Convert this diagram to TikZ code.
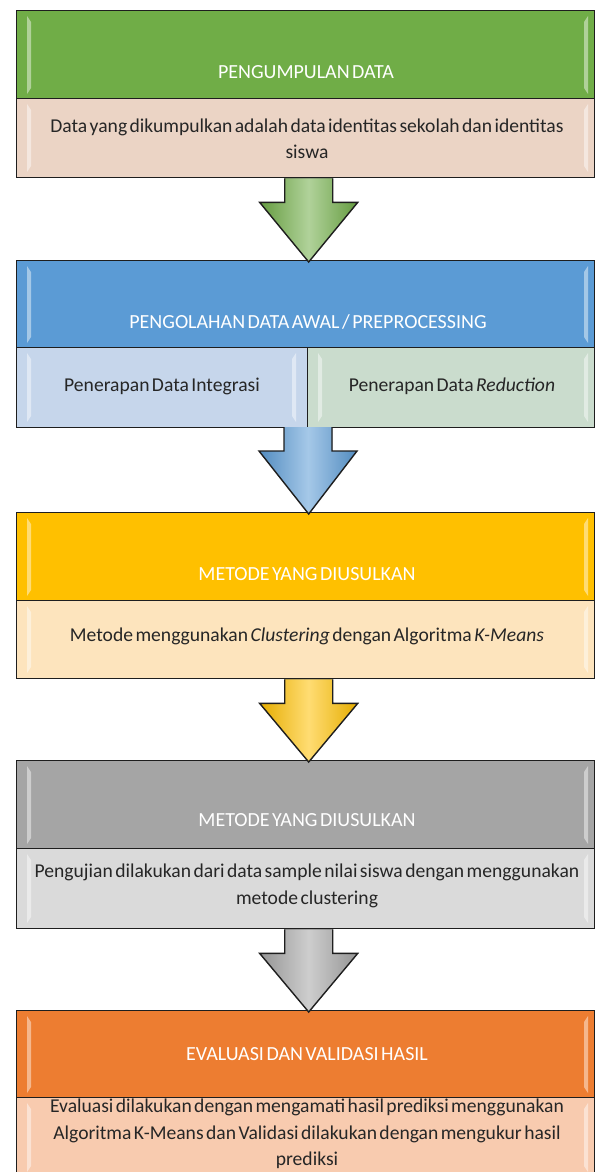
\documentclass[tikz,border=0pt]{standalone}
\usepackage{fontspec}
\setmainfont{Carlito}[WordSpace=0.55]
\usetikzlibrary{calc}
\definecolor{gHead}{HTML}{70AD47}
\definecolor{gDesc}{HTML}{EBD4C5}
\definecolor{bHead}{HTML}{5B9BD5}
\definecolor{bLeft}{HTML}{C6D6EB}
\definecolor{bRight}{HTML}{CADCCD}
\definecolor{yHead}{HTML}{FFC000}
\definecolor{yDesc}{HTML}{FDE4BD}
\definecolor{grHead}{HTML}{A5A5A5}
\definecolor{grDesc}{HTML}{DADADA}
\definecolor{oHead}{HTML}{ED7D31}
\definecolor{oDesc}{HTML}{F8CBAF}
\definecolor{edge}{HTML}{1E1E1E}
\tikzset{
  panel/.style={draw=edge, line width=1.4pt, rectangle, inner sep=0pt, anchor=north west},
  htxt/.style={text=white, font=\fontsize{20}{24}\selectfont, inner sep=0pt},
  dtxt/.style={text=black!85, font=\fontsize{19.6}{26.5}\selectfont, align=center, inner sep=0pt},
  bevel/.style={fill=white, opacity=0.45, draw=none},
  pics/darrow/.style args={#1/#2/#3}{code={
    \fill[left color=#3!90!black, right color=#3!90!black, middle color=#3!55!white]
      ($(#1.south)+(-21,0)$) -- ($(#1.south)+(-21,24)$) -- ($(#1.south)+(-46,24)$)
      -- ($(#2.north)+(3,2)$) -- ($(#1.south)+(52,24)$) -- ($(#1.south)+(27,24)$)
      -- ($(#1.south)+(27,0)$) -- cycle;
    \draw[edge, line width=1.4pt, line join=miter] ($(#1.south)+(-21,0)$) -- ($(#1.south)+(-21,24)$) -- ($(#1.south)+(-46,24)$)
      -- ($(#2.north)+(3,2)$) -- ($(#1.south)+(52,24)$) -- ($(#1.south)+(27,24)$)
      -- ($(#1.south)+(27,0)$);
  }}
}
\begin{document}
\begin{tikzpicture}[x=1pt,y=-1pt]
\clip (0,0) rectangle (595,1172);
\fill[white] (0,0) rectangle (595,1172);

% ---------- box 1
\node[panel, fill=gHead, minimum width=578pt, minimum height=88pt] (h1) at (16,10) {};
\node[panel, fill=gDesc, minimum width=578pt, minimum height=79pt] (d1) at (16,98) {};
\node[htxt] (t1) at (306,72) {PENGUMPULAN DATA};
\node[dtxt] (s1) at (307,139) {Data yang dikumpulkan adalah data identitas sekolah dan identitas\\siswa};

% ---------- box 2
\node[panel, fill=bHead, minimum width=578pt, minimum height=87pt] (h2) at (16,260) {};
\node[panel, fill=bLeft, minimum width=291pt, minimum height=80pt] (d2a) at (16,347) {};
\node[panel, fill=bRight, minimum width=287pt, minimum height=80pt] (d2b) at (307,347) {};
\node[htxt] (t2) at (308,322) {PENGOLAHAN DATA AWAL / PREPROCESSING};
\node[dtxt] (s2a) at (162,386) {Penerapan Data Integrasi};
\node[dtxt] (s2b) at (452,386) {Penerapan Data \textit{Reduction}};
\coordinate (d2) at (305,427);

% ---------- box 3
\node[panel, fill=yHead, minimum width=578pt, minimum height=88pt] (h3) at (16,512) {};
\node[panel, fill=yDesc, minimum width=578pt, minimum height=78pt] (d3) at (16,600) {};
\node[htxt] (t3) at (307,574) {METODE YANG DIUSULKAN};
\node[dtxt] (s3) at (307,636) {Metode menggunakan \textit{Clustering} dengan Algoritma \textit{K-Means}};

% ---------- box 4
\node[panel, fill=grHead, minimum width=578pt, minimum height=88pt] (h4) at (16,760) {};
\node[panel, fill=grDesc, minimum width=578pt, minimum height=80pt] (d4) at (16,848) {};
\node[htxt] (t4) at (307,820) {METODE YANG DIUSULKAN};
\node[dtxt] (s4) at (307,886) {Pengujian dilakukan dari data sample nilai siswa dengan menggunakan\\metode clustering};

% ---------- box 5
\node[panel, fill=oHead, minimum width=578pt, minimum height=87pt] (h5) at (16,1010) {};
\node[panel, fill=oDesc, minimum width=578pt, minimum height=90pt] (d5) at (16,1097) {};
\node[htxt] (t5) at (307,1054) {EVALUASI DAN VALIDASI HASIL};
\node[dtxt] (s5) at (307,1134) {Evaluasi dilakukan dengan mengamati hasil prediksi menggunakan\\Algoritma K-Means dan Validasi dilakukan dengan mengukur hasil\\prediksi};

% ---------- bevel highlights
\foreach \t/\b in {16/94, 104/172, 266/343, 353/422, 518/596, 606/673, 766/844, 854/923, 1016/1093, 1103/1172}{
  \fill[bevel] (27,\t) -- (31,\t+6) -- (31,\b-6) -- (27,\b) -- cycle;
  \fill[bevel] (588,\t) -- (584,\t+6) -- (584,\b-6) -- (588,\b) -- cycle;
}
\fill[bevel] (318,353) -- (322,359) -- (322,416) -- (318,422) -- cycle;
\fill[bevel] (296,353) -- (292,359) -- (292,416) -- (296,422) -- cycle;

% ---------- arrows
\pic {darrow={d1/h2/gHead}};
\pic {darrow={d2/h3/bHead}};
\pic {darrow={d3/h4/yHead}};
\pic {darrow={d4/h5/grHead}};
\end{tikzpicture}
\end{document}
